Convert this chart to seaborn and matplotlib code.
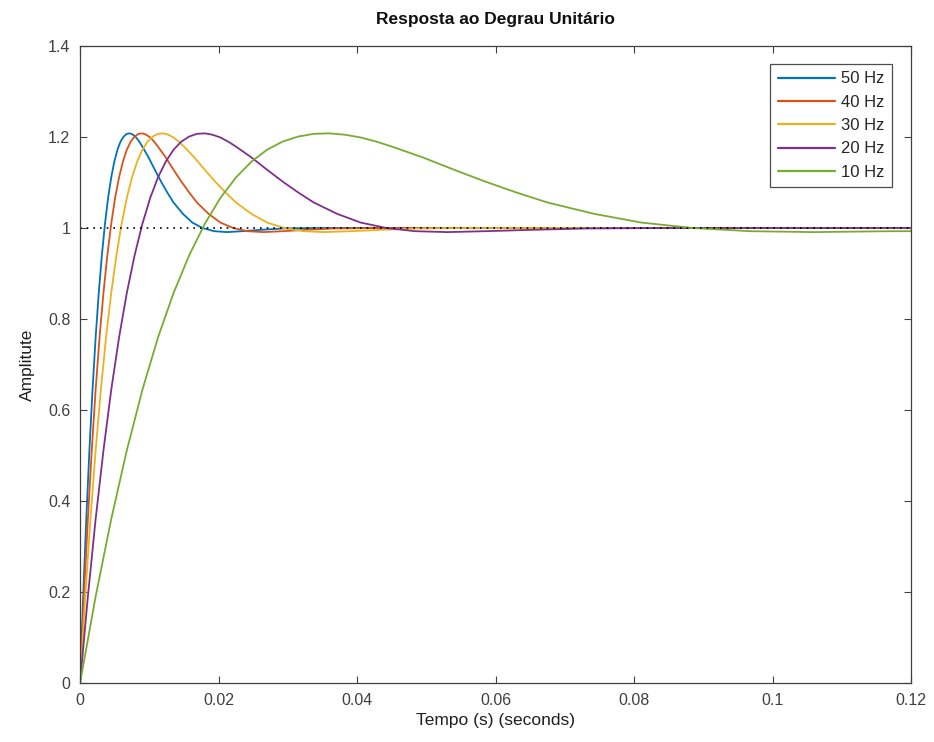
import matplotlib
matplotlib.use("Agg")
import matplotlib.pyplot as plt
import seaborn as sns
import pandas as pd

# ---- data (step responses) ----
series_names = ["50 Hz", "40 Hz", "30 Hz", "20 Hz", "10 Hz"]
series_colors = ["#0072BD", "#D95319", "#EDB120", "#7E2F8E", "#77AC30"]

amp_common = [0, 0.190, 0.360, 0.511, 0.644, 0.759, 0.857, 0.940, 1.009, 1.066,
              1.111, 1.146, 1.172, 1.190, 1.201, 1.207, 1.208, 1.205, 1.199, 1.190,
              1.179, 1.155, 1.128, 1.102, 1.078, 1.056, 1.031, 1.012, 1.000, 0.993,
              0.991, 0.993, 0.996, 0.999, 1.000]

t_50 = [0, 0.00045, 0.00090, 0.00135, 0.00180, 0.00225, 0.00270, 0.00315, 0.00360, 0.00405,
        0.00450, 0.00495, 0.00540, 0.00585, 0.00630, 0.00675, 0.00720, 0.00765, 0.00810, 0.00855,
        0.00900, 0.00990, 0.01080, 0.01170, 0.01260, 0.01350, 0.01486, 0.01621, 0.01769, 0.01936,
        0.02120, 0.02341, 0.02611, 0.02926, 0.03376, 0.12]
y_50 = amp_common + [1.000]

t_40 = [0, 0.00056, 0.00113, 0.00169, 0.00225, 0.00281, 0.00338, 0.00394, 0.00450, 0.00506,
        0.00563, 0.00619, 0.00675, 0.00732, 0.00788, 0.00844, 0.00900, 0.00957, 0.01013, 0.01069,
        0.01125, 0.01238, 0.01350, 0.01463, 0.01576, 0.01688, 0.01857, 0.02026, 0.02211, 0.02420,
        0.02650, 0.02926, 0.03264, 0.03658, 0.04220, 0.12]
y_40 = amp_common + [1.000]

t_30 = [0, 0.00075, 0.00150, 0.00225, 0.00300, 0.00375, 0.00450, 0.00525, 0.00600, 0.00675,
        0.00750, 0.00825, 0.00900, 0.00975, 0.01050, 0.01125, 0.01200, 0.01275, 0.01350, 0.01425,
        0.01501, 0.01651, 0.01801, 0.01951, 0.02101, 0.02251, 0.02476, 0.02701, 0.02949, 0.03226,
        0.03534, 0.03901, 0.04352, 0.04877, 0.05627, 0.12]
y_30 = amp_common + [1.000]

t_20 = [0, 0.00113, 0.00225, 0.00338, 0.00450, 0.00563, 0.00675, 0.00788, 0.00900, 0.01013,
        0.01125, 0.01238, 0.01350, 0.01463, 0.01576, 0.01688, 0.01801, 0.01913, 0.02026, 0.02138,
        0.02251, 0.02476, 0.02701, 0.02926, 0.03151, 0.03376, 0.03714, 0.04051, 0.04423, 0.04839,
        0.05301, 0.05852, 0.06527, 0.07315, 0.08441, 0.12]
y_20 = amp_common + [1.000]

t_10 = [0, 0.00225, 0.00450, 0.00675, 0.00900, 0.01125, 0.01350, 0.01576, 0.01801, 0.02026,
        0.02251, 0.02476, 0.02701, 0.02926, 0.03151, 0.03376, 0.03601, 0.03826, 0.04051, 0.04277,
        0.04502, 0.04952, 0.05402, 0.05852, 0.06302, 0.06752, 0.07428, 0.08103, 0.08846, 0.09678,
        0.10601, 0.11704, 0.12]
y_10 = amp_common[:32] + [0.993]

x_ticks = [0, 0.02, 0.04, 0.06, 0.08, 0.1, 0.12]
x_tick_labels = ["0", "0.02", "0.04", "0.06", "0.08", "0.1", "0.12"]
y_ticks = [0, 0.2, 0.4, 0.6, 0.8, 1.0, 1.2, 1.4]
y_tick_labels = ["0", "0.2", "0.4", "0.6", "0.8", "1", "1.2", "1.4"]
steady_x = [0, 0.12]
steady_y = [1, 1]

# ---- build long-form table ----
frames = []
for name, t, y in zip(series_names, [t_50, t_40, t_30, t_20, t_10],
                      [y_50, y_40, y_30, y_20, y_10]):
    frames.append(pd.DataFrame({"t": t, "y": y, "series": name}))
df = pd.concat(frames, ignore_index=True)

sns.set_style("white")
plt.rcParams["font.family"] = ["Liberation Sans", "DejaVu Sans"]

fig = plt.figure(figsize=(9.34, 7.42), dpi=100)
ax = fig.add_axes([0.0857, 0.0795, 0.8897, 0.8585])

sns.lineplot(data=df, x="t", y="y", hue="series", hue_order=series_names,
             palette=dict(zip(series_names, series_colors)), sort=False,
             estimator=None, units="series", lw=1.3, ax=ax, zorder=3)

ax.plot(steady_x, steady_y, linestyle=(0, (1, 3)), color="black", lw=1.2, zorder=4)

ax.set_xlim(0, 0.12)
ax.set_ylim(0, 1.4)
ax.set_xticks(x_ticks)
ax.set_xticklabels(x_tick_labels)
ax.set_yticks(y_ticks)
ax.set_yticklabels(y_tick_labels)
ax.tick_params(axis="both", which="both", direction="in", length=5, width=0.8,
               colors="#404040", labelsize=11.5, top=True, right=True,
               bottom=True, left=True, pad=7)
for sp in ax.spines.values():
    sp.set_visible(True)
    sp.set_color("#404040")
    sp.set_linewidth(0.9)
    sp.set_zorder(5)

ax.set_xlabel("Tempo (s) (seconds)", fontsize=12.5, color="#202020", labelpad=4)
ax.set_ylabel("Amplitute", fontsize=12.5, color="#202020", labelpad=9)
ax.set_title("Resposta ao Degrau Unitário", fontsize=12.5, fontweight="bold",
             color="#101010", pad=16)

leg = ax.legend(loc="upper right", bbox_to_anchor=(0.9775, 0.972), fontsize=12,
                frameon=True, fancybox=False, edgecolor="#202020",
                handlelength=3.4, borderpad=0.45, labelspacing=0.5, handletextpad=0.4,
                borderaxespad=0.0, title=None)
leg.get_frame().set_linewidth(0.9)
leg.set_zorder(6)
for line in leg.get_lines():
    line.set_linewidth(1.6)

fig.savefig("out.png", dpi=100, facecolor="white")
